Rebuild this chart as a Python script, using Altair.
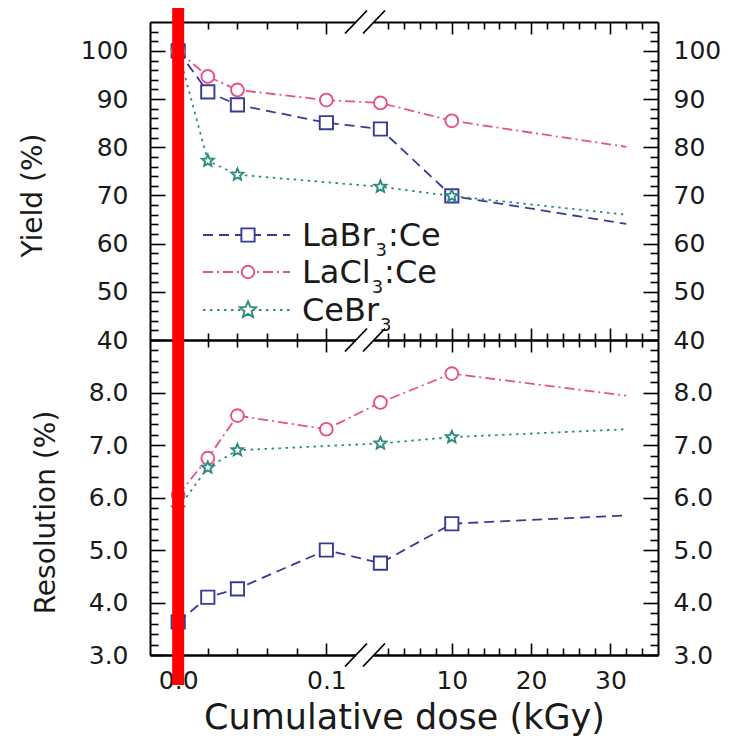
import math
import altair as alt
import pandas as pd

FONT = "DejaVu Sans"

# ---------------- data ----------------
dose = [0, 0.02, 0.04, 0.1, 1, 10, 32]
marker_flags = [1, 1, 1, 1, 1, 1, 0]
series_names = ["LaBr₃:Ce", "LaCl₃:Ce", "CeBr₃"]
# legend text split as (main, subscript, rest)
legend_main = ["LaBr", "LaCl", "CeBr"]
legend_sub = ["3", "3", "3"]
legend_rest = [":Ce", ":Ce", ""]

yield_labr = [100, 91.5, 88.8, 85.1, 83.8, 69.9, 64.1]
yield_lacl = [100, 94.7, 91.9, 89.8, 89.2, 85.5, 80.1]
yield_cebr = [100, 77.2, 74.3, None, 71.8, 69.9, 66.0]

res_labr = [3.63, 4.10, 4.26, 5.00, 4.75, 5.50, 5.66]
res_lacl = [6.05, 6.75, 7.56, 7.30, 7.81, 8.36, 7.94]
res_cebr = [5.79, 6.57, 6.90, None, 7.03, 7.15, 7.30]

x_major = [0, 0.1, 10, 20, 30]
x_minor = [0.02, 0.04, 0.06, 0.08] + [v for v in range(2, 36, 2) if v % 10 != 0]
yield_major = [40, 50, 60, 70, 80, 90, 100]
yield_minor = [v for v in range(42, 106, 2) if v % 10 != 0]
res_major = [3, 4, 5, 6, 7, 8]
res_minor = [round(3 + 0.2 * i, 1) for i in range(1, 30) if i % 5 != 0]

red_line_dose = [0]
break_lo = [0.12]
break_hi = [0.19]

# ---------------- styles / layout ----------------
series_colors = ["#363b96", "#e6508a", "#2d8a80"]
series_dashes = [[10, 6], [10, 4, 2, 4], [2.5, 4.5]]
star_pts = []
for k in range(10):
    r = 1.0 if k % 2 == 0 else 0.45
    a = math.radians(-90 + 36 * k)
    star_pts.append(f"{r * math.cos(a):.3f},{r * math.sin(a):.3f}")
STAR = "M" + " L".join(star_pts) + " Z"
series_shapes = ["square", "circle", STAR]
series_sizes = [175, 155, 290]

W = 508
H_TOP = 318
H_BOT = 315
H = H_TOP + H_BOT
LINE_W = 1.8

XSCALE = alt.Scale(domain=[-0.019, break_lo[0], break_hi[0], 36],
                   range=[0, 206, 224, W], nice=False, zero=False)
YTOP = alt.Scale(domain=[40, 106], range=[H_TOP, 0], nice=False, zero=False)
YBOT = alt.Scale(domain=[3, 9], range=[H, H_TOP], nice=False, zero=False)
COLOR = alt.Scale(domain=series_names, range=series_colors)
DASH = alt.Scale(domain=series_names, range=series_dashes)
SHAPE = alt.Scale(domain=series_names, range=series_shapes)
SIZE = alt.Scale(domain=series_names, range=series_sizes)


def build_df(vals):
    rows = []
    for name, vs in zip(series_names, vals):
        for d, v, m in zip(dose, vs, marker_flags):
            if v is not None:
                rows.append({"series": name, "dose": d, "value": v, "marker": m})
    return pd.DataFrame(rows)


df_yield = build_df([yield_labr, yield_lacl, yield_cebr])
df_res = build_df([res_labr, res_lacl, res_cebr])


def ax(**kw):
    base = dict(grid=False, zindex=0, title=None, domainColor="black",
                domainWidth=2, tickColor="black", tickWidth=1.6,
                labelColor="#1a1a1a", labelFont=FONT, labelFontSize=25,
                labelFlush=False, labelOverlap=False)
    base.update(kw)
    return alt.Axis(**base)


def xq(field="dose", axis=None):
    return alt.X(f"{field}:Q", scale=XSCALE, axis=axis)


layers = []
hx = alt.Chart(df_yield).mark_rule(opacity=0, strokeWidth=0)

# ---- x axes: inward ticks on every horizontal edge ----
for off_top, off_bot in [(-H, -H), (-H_TOP, -H_BOT)]:
    layers.append(hx.encode(x=xq(axis=ax(orient="top", offset=off_top, values=x_major,
                                          tickSize=12, labels=False))))
    layers.append(hx.encode(x=xq(axis=ax(orient="top", offset=off_top, values=x_minor,
                                          tickSize=7, labels=False, domain=False))))
    layers.append(hx.encode(x=xq(axis=ax(orient="bottom", offset=off_bot, values=x_major,
                                          tickSize=12, labels=False))))
    layers.append(hx.encode(x=xq(axis=ax(orient="bottom", offset=off_bot, values=x_minor,
                                          tickSize=7, labels=False, domain=False))))
layers.append(hx.encode(x=xq(axis=ax(
    orient="bottom", values=x_major, ticks=False, tickSize=0, labelPadding=13,
    labelExpr="datum.value < 1 ? format(datum.value, '.1f') : format(datum.value, 'd')",
    title="Cumulative dose (kGy)", titleFont=FONT, titleFontSize=35,
    titleFontWeight="normal", titleColor="#1a1a1a", titlePadding=7))))


# ---- y axes for each panel ----
def y_axes(df, yscale, ymaj, ymin, yfmt, ytitle, ytitle_pad, ytitle_y):
    hy = alt.Chart(df).mark_rule(opacity=0, strokeWidth=0)

    def yq(axis):
        return alt.Y("value:Q", scale=yscale, axis=axis)

    return [
        hy.encode(y=yq(ax(orient="left", values=ymaj, ticks=False, tickSize=0,
                           labelPadding=22, format=yfmt, title=ytitle, titleFont=FONT,
                           titleFontSize=28, titleFontWeight="normal",
                           titleColor="#1a1a1a", titlePadding=ytitle_pad,
                           titleY=ytitle_y))),
        hy.encode(y=yq(ax(orient="right", offset=-W, values=ymaj, tickSize=15,
                           labels=False, domain=False))),
        hy.encode(y=yq(ax(orient="right", offset=-W, values=ymin, tickSize=8,
                           labels=False, domain=False))),
        hy.encode(y=yq(ax(orient="right", values=ymaj, ticks=False, tickSize=0,
                           labelPadding=15, format=yfmt))),
        hy.encode(y=yq(ax(orient="left", offset=-W, values=ymaj, tickSize=15,
                           labels=False, domain=False))),
        hy.encode(y=yq(ax(orient="left", offset=-W, values=ymin, tickSize=8,
                           labels=False, domain=False))),
    ]


layers += y_axes(df_yield, YTOP, yield_major, yield_minor, "d", "Yield (%)", 33, 173)
layers += y_axes(df_res, YBOT, res_major, res_minor, ".1f", "Resolution (%)", 28, 490)


# ---- data ----
def data_layers(df, yscale):
    base = alt.Chart(df)
    yenc = alt.Y("value:Q", scale=yscale, axis=None)
    return [
        base.mark_line(strokeWidth=LINE_W).encode(
            x=xq(), y=yenc,
            color=alt.Color("series:N", scale=COLOR, legend=None),
            strokeDash=alt.StrokeDash("series:N", scale=DASH, legend=None),
            detail="series:N"),
        base.transform_filter("datum.marker == 1").mark_point(
            fill="white", fillOpacity=1, opacity=1, strokeWidth=1.9).encode(
            x=xq(), y=yenc,
            stroke=alt.Stroke("series:N", scale=COLOR, legend=None),
            shape=alt.Shape("series:N", scale=SHAPE, legend=None),
            size=alt.Size("series:N", scale=SIZE, legend=None)),
    ]


layers += data_layers(df_yield, YTOP)
layers += data_layers(df_res, YBOT)

# ---- legend (inside top panel) ----
row_c = [213, 250, 288]
LEG_FS = 32
SUB_FS = 18
SUB_DROP = 10
main_em = {"LaBr": 2.267, "LaCl": 2.146, "CeBr": 2.410}   # DejaVu Sans advance widths
for i, name in enumerate(series_names):
    ldf = alt.Chart(pd.DataFrame({"series": [name], "main": [legend_main[i]],
                                  "sub": [legend_sub[i]], "rest": [legend_rest[i]]}))
    layers.append(ldf.mark_rule(strokeWidth=LINE_W, strokeDash=series_dashes[i],
                                color=series_colors[i]).encode(
        x=alt.value(53), x2=alt.value(140), y=alt.value(row_c[i])))
    layers.append(ldf.mark_point(fill="white", fillOpacity=1, opacity=1,
                                 strokeWidth=1.9, shape=series_shapes[i],
                                 size=series_sizes[i], stroke=series_colors[i]).encode(
        x=alt.value(98), y=alt.value(row_c[i])))
    x0 = 152
    base_y = row_c[i] + 11
    x_sub = x0 + main_em[legend_main[i]] * LEG_FS + 1
    x_rest = x_sub + 0.636 * SUB_FS + 1
    layers.append(ldf.mark_text(align="left", baseline="alphabetic", font=FONT,
                                fontSize=LEG_FS, color="#1a1a1a").encode(
        x=alt.value(x0), y=alt.value(base_y), text="main:N"))
    layers.append(ldf.mark_text(align="left", baseline="alphabetic", font=FONT,
                                fontSize=SUB_FS, color="#1a1a1a").encode(
        x=alt.value(x_sub), y=alt.value(base_y + SUB_DROP), text="sub:N"))
    if legend_rest[i]:
        layers.append(ldf.mark_text(align="left", baseline="alphabetic", font=FONT,
                                    fontSize=LEG_FS, color="#1a1a1a").encode(
            x=alt.value(x_rest), y=alt.value(base_y), text="rest:N"))

# ---- axis breaks ----
bdf = alt.Chart(pd.DataFrame({"lo": break_lo, "hi": break_hi}))
for e in [0, H_TOP, H]:
    layers.append(bdf.mark_rule(color="white", strokeWidth=6).encode(
        x=xq("lo"), x2="hi:Q", y=alt.value(e)))
for e in [0, H_TOP, H]:
    for f in ["lo", "hi"]:
        layers.append(bdf.mark_rule(color="black", strokeWidth=1.8,
                                    xOffset=-11, x2Offset=11).encode(
            x=xq(f), x2=f"{f}:Q", y=alt.value(e + 11.5), y2=alt.value(e - 11.5)))

# ---- red marker line ----
layers.append(alt.Chart(pd.DataFrame({"dose": red_line_dose})).mark_rule(
    color="#ff0000", strokeWidth=12).encode(
    x=xq(), y=alt.value(-17), y2=alt.value(H + 30)))

chart = alt.layer(*layers).properties(
    width=W, height=H,
    autosize=alt.AutoSizeParams(type="none"),
    padding={"left": 142, "top": 14, "right": 67, "bottom": 82}).resolve_scale(
    y="independent").resolve_axis(x="independent", y="independent").configure(
    font=FONT).configure_view(strokeWidth=0)

chart.save("out.html", embed_options={"renderer": "svg", "actions": False})
